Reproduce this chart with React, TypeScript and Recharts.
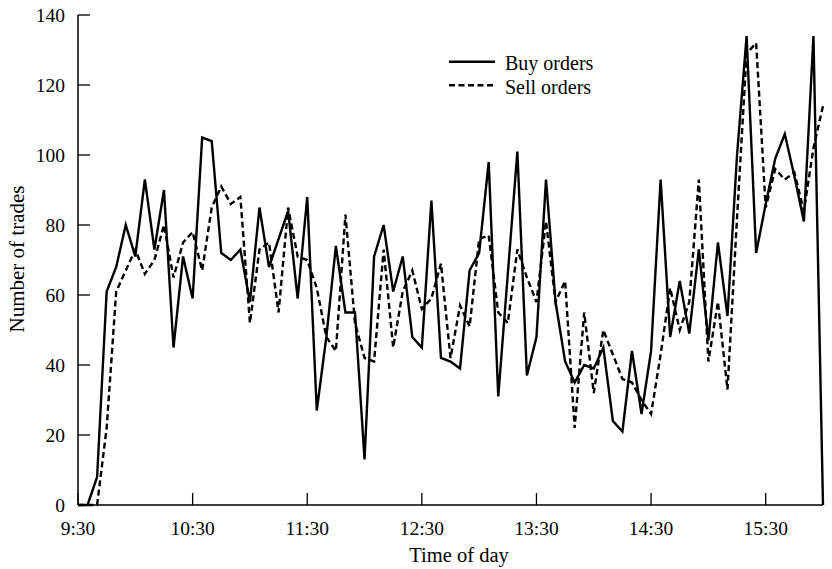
import { LineChart, Line, XAxis, YAxis, Legend } from 'recharts';

// 5-minute bins over the trading day
const times = [
  '9:30', '9:35', '9:40', '9:45', '9:50', '9:55',
  '10:00', '10:05', '10:10', '10:15', '10:20', '10:25', '10:30', '10:35', '10:40', '10:45', '10:50', '10:55',
  '11:00', '11:05', '11:10', '11:15', '11:20', '11:25', '11:30', '11:35', '11:40', '11:45', '11:50', '11:55',
  '12:00', '12:05', '12:10', '12:15', '12:20', '12:25', '12:30', '12:35', '12:40', '12:45', '12:50', '12:55',
  '13:00', '13:05', '13:10', '13:15', '13:20', '13:25', '13:30', '13:35', '13:40', '13:45', '13:50', '13:55',
  '14:00', '14:05', '14:10', '14:15', '14:20', '14:25', '14:30', '14:35', '14:40', '14:45', '14:50', '14:55',
  '15:00', '15:05', '15:10', '15:15', '15:20', '15:25', '15:30', '15:35', '15:40', '15:45', '15:50', '15:55',
  '16:00',
];

const buyOrders = [
  0, 0, 8, 61, 68, 80, 71, 93, 73, 90,
  45, 71, 59, 105, 104, 72, 70, 73, 58, 85,
  68, 76, 84, 59, 88, 27, 48, 74, 55, 55,
  13, 71, 80, 61, 71, 48, 45, 87, 42, 41,
  39, 67, 72, 98, 31, 66, 101, 37, 48, 93,
  58, 41, 35, 40, 39, 45, 24, 21, 44, 26,
  44, 93, 48, 64, 49, 73, 47, 75, 54, 100,
  134, 72, 86, 99, 106, 94, 81, 134, 0,
];

const sellOrders = [
  0, 0, 0, 22, 61, 67, 73, 66, 70, 80,
  65, 75, 78, 67, 85, 91, 86, 88, 52, 73,
  75, 55, 85, 71, 70, 62, 48, 44, 83, 52,
  42, 41, 73, 45, 61, 67, 56, 59, 69, 42,
  57, 51, 76, 77, 55, 52, 73, 65, 58, 81,
  58, 64, 22, 55, 32, 50, 43, 36, 35, 30,
  26, 43, 62, 50, 58, 93, 41, 58, 33, 82,
  129, 132, 85, 96, 93, 95, 84, 102, 114,
];

const tickLabels = ['9:30', '10:30', '11:30', '12:30', '13:30', '14:30', '15:30'];
const yTicks = [0, 20, 40, 60, 80, 100, 120, 140];

const seriesNames = ['Buy orders', 'Sell orders'];
const seriesDashes = [undefined, '6 3.5'];

const FONT = '"Liberation Serif", "Times New Roman", serif';
const LINE_W = 2.4;

// minutes after the open, so the x axis is a real time scale
const toMinutes = (t: string) => {
  const [h, m] = t.split(':').map(Number);
  return h * 60 + m - (9 * 60 + 30);
};

const rows = times.map((t, i) => ({
  min: toMinutes(t),
  buy: buyOrders[i],
  sell: sellOrders[i],
}));

const tickMinutes = tickLabels.map(toMinutes);
const labelFor = (m: number) => tickLabels[tickMinutes.indexOf(m)] ?? '';

const XTick = ({ x, y, payload }: any) => (
  <g>
    <line x1={x} x2={x} y1={y} y2={y - 12} stroke="#000" strokeWidth={1.3} />
    <text x={x} y={y + 30} textAnchor="middle" fontSize={19.5} fontFamily={FONT} fill="#000">
      {labelFor(payload.value)}
    </text>
  </g>
);

const YTick = ({ x, y, payload }: any) => (
  <g>
    <line x1={x} x2={x + 12} y1={y} y2={y} stroke="#000" strokeWidth={1.3} />
    <text x={x - 13} y={y} dy="0.35em" textAnchor="end" fontSize={19.5} fontFamily={FONT} fill="#000">
      {payload.value}
    </text>
  </g>
);

const LegendBox = () => (
  <svg width={220} height={60} style={{ display: 'block' }}>
    {seriesNames.map((name, i) => (
      <g key={name}>
        <line
          x1={4}
          x2={50}
          y1={13.7 + i * 23.5}
          y2={13.7 + i * 23.5}
          stroke="#000"
          strokeWidth={LINE_W}
          strokeDasharray={seriesDashes[i]}
        />
        <text x={60} y={22 + i * 23.5} fontSize={20} fontFamily={FONT} fill="#000">
          {name}
        </text>
      </g>
    ))}
  </svg>
);

const App = () => {
  return (
    <div style={{ position: 'absolute', left: 0, top: 0, width: 832, height: 569, background: '#fff' }}>
      <LineChart width={832} height={569} data={rows} margin={{ top: 15, right: 9, left: 0, bottom: 0 }}>
        <XAxis
          dataKey="min"
          type="number"
          domain={[0, 390]}
          ticks={tickMinutes}
          interval={0}
          height={64}
          tickSize={0}
          tickMargin={0}
          tickLine={false}
          tick={<XTick />}
          axisLine={{ stroke: '#000', strokeWidth: 1.5 }}
          label={() => (
            <text x={459} y={562} textAnchor="middle" fontSize={20.5} fontFamily={FONT} fill="#000">
              Time of day
            </text>
          )}
        />
        <YAxis
          type="number"
          domain={[0, 140]}
          ticks={yTicks}
          interval={0}
          width={78}
          tickSize={0}
          tickMargin={0}
          tickLine={false}
          tick={<YTick />}
          axisLine={{ stroke: '#000', strokeWidth: 1.5 }}
          label={() => (
            <text
              x={24}
              y={259}
              transform="rotate(-90, 24, 259)"
              textAnchor="middle"
              fontSize={21}
              fontFamily={FONT}
              fill="#000"
            >
              Number of trades
            </text>
          )}
        />
        <Legend
          content={<LegendBox />}
          verticalAlign="middle"
          align="center"
          wrapperStyle={{ position: 'absolute', left: 445, top: 48, width: 220, height: 60 }}
        />
        <Line
          type="linear"
          dataKey="buy"
          name={seriesNames[0]}
          stroke="#000"
          strokeWidth={LINE_W}
          strokeLinejoin="miter"
          dot={false}
          activeDot={false}
          isAnimationActive={false}
        />
        <Line
          type="linear"
          dataKey="sell"
          name={seriesNames[1]}
          stroke="#000"
          strokeWidth={LINE_W}
          strokeDasharray={seriesDashes[1]}
          strokeLinejoin="miter"
          dot={false}
          activeDot={false}
          isAnimationActive={false}
        />
      </LineChart>
    </div>
  );
};

export default App;
